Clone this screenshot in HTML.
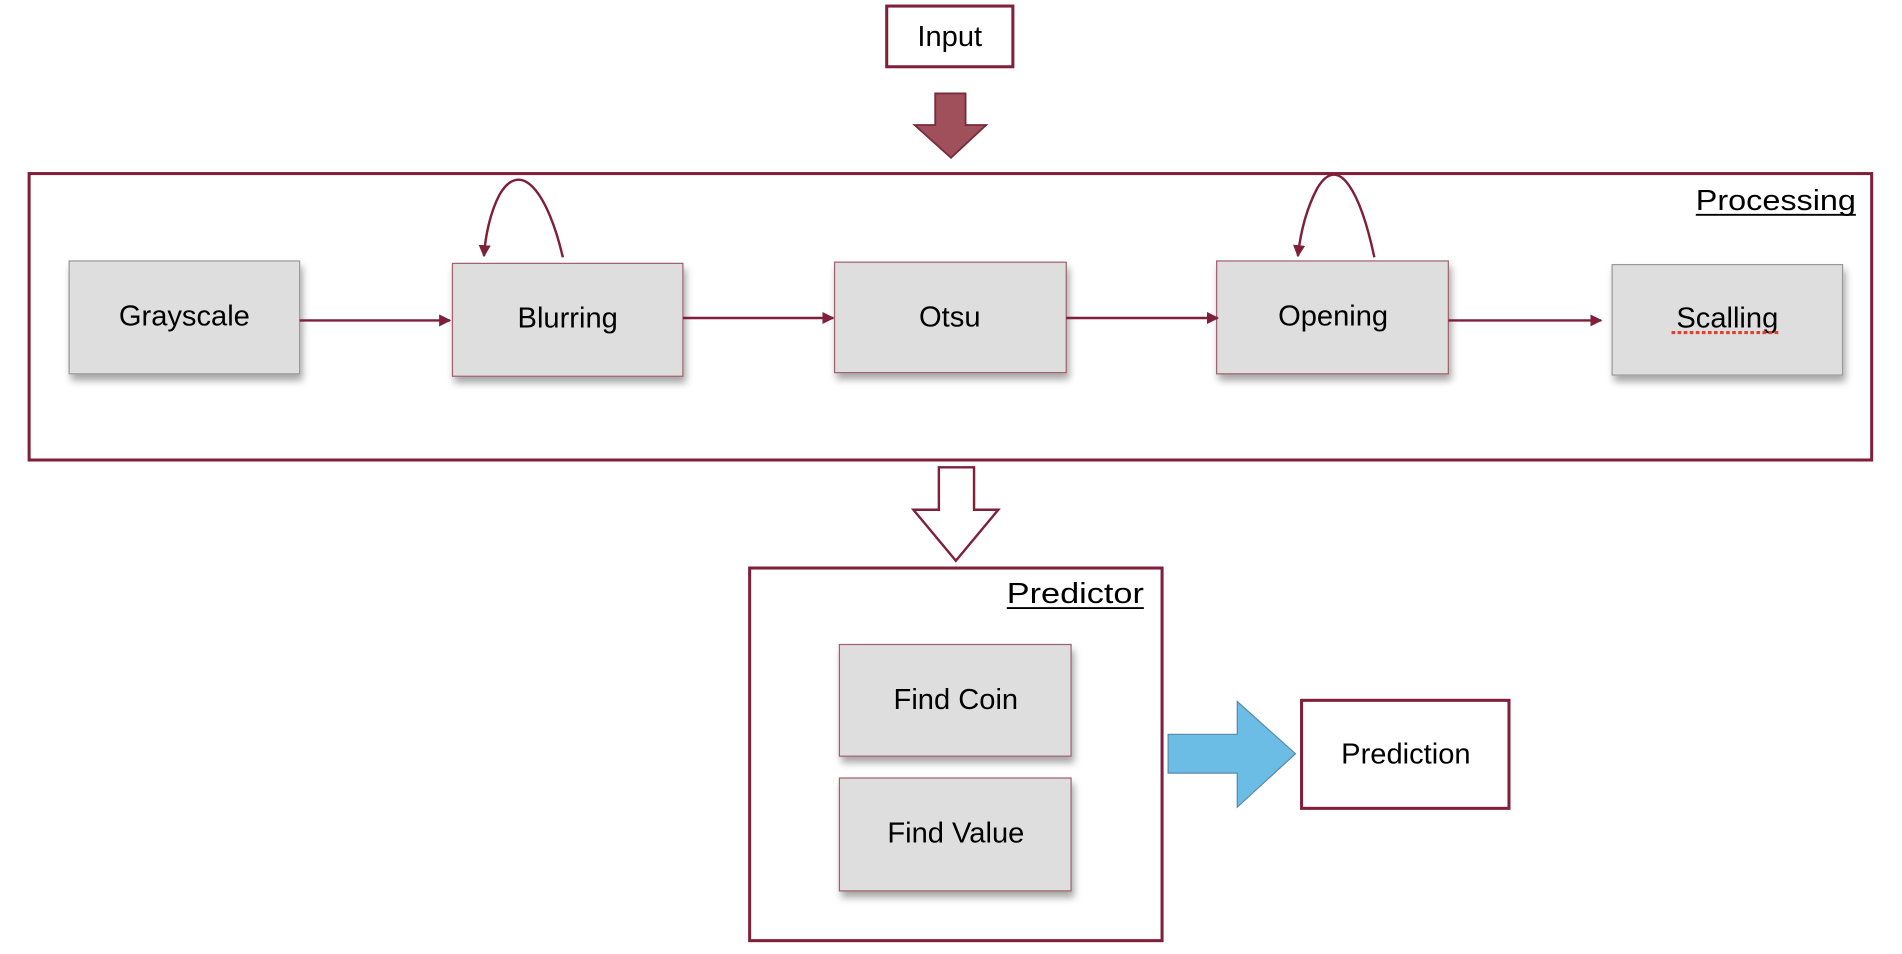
<!DOCTYPE html>
<html><head><meta charset="utf-8"><style>
html,body{margin:0;padding:0;background:#fff;}
svg{display:block;}
text{font-family:"Liberation Sans",sans-serif;fill:#000;}
</style></head><body>
<svg width="1902" height="954" viewBox="0 0 1568 786" preserveAspectRatio="none" xmlns="http://www.w3.org/2000/svg">
<defs>
<marker id="ah" markerWidth="10" markerHeight="10" refX="9" refY="5" orient="auto" markerUnits="userSpaceOnUse">
<path d="M0,0 L10,5 L0,10 z" fill="#7f1f3a"/>
</marker>
<filter id="sh" x="-10%" y="-10%" width="130%" height="140%">
<feDropShadow dx="2" dy="5" stdDeviation="3" flood-color="#000" flood-opacity="0.35"/>
</filter>
</defs>
<rect x="731" y="5" width="104" height="50" fill="#fff" stroke="#7f1f3a" stroke-width="2.5"/>
<text x="783" y="38" font-size="24" text-anchor="middle">Input</text>
<path d="M771,77 L796,77 L796,103 L813,103 L784,130 L754,103 L771,103 Z" fill="#a0505a" stroke="#7a2a3a" stroke-width="1.5"/>
<rect x="24" y="143" width="1519" height="236" fill="none" stroke="#7f1f3a" stroke-width="2.5"/>
<text x="1398" y="173" font-size="24" textLength="132" lengthAdjust="spacingAndGlyphs">Processing</text>
<line x1="1398" y1="177" x2="1530" y2="177" stroke="#000" stroke-width="1.5"/>
<g filter="url(#sh)">
<rect x="57" y="215" width="190" height="93" fill="#dedede" stroke="#999" stroke-width="1"/>
<rect x="373" y="217" width="190" height="93" fill="#dedede" stroke="#a06070" stroke-width="1"/>
<rect x="688" y="216" width="191" height="91" fill="#dedede" stroke="#a06070" stroke-width="1"/>
<rect x="1003" y="215" width="191" height="93" fill="#dedede" stroke="#a06070" stroke-width="1"/>
<rect x="1329" y="218" width="190" height="91" fill="#dedede" stroke="#999" stroke-width="1"/>
</g>
<text x="152" y="268" font-size="24" text-anchor="middle">Grayscale</text>
<text x="468" y="270" font-size="24" text-anchor="middle">Blurring</text>
<text x="783" y="269" font-size="24" text-anchor="middle">Otsu</text>
<text x="1099" y="268" font-size="24" text-anchor="middle">Opening</text>
<text x="1424" y="270" font-size="24" text-anchor="middle">Scalling</text>
<line x1="1378" y1="274" x2="1466" y2="274" stroke="#e04030" stroke-width="2.5" stroke-dasharray="3,2"/>
<g stroke="#7f1f3a" stroke-width="2" fill="none">
<line x1="247" y1="264" x2="371" y2="264" marker-end="url(#ah)"/>
<line x1="563" y1="262" x2="687" y2="262" marker-end="url(#ah)"/>
<line x1="879" y1="262" x2="1004" y2="262" marker-end="url(#ah)"/>
<line x1="1194" y1="264" x2="1320" y2="264" marker-end="url(#ah)"/>
<path d="M464,212 C452,160 430,130 412,160 C404,175 400,195 399,211" marker-end="url(#ah)"/>
<path d="M1133,212 C1122,160 1104,125 1086,155 C1077,172 1072,192 1070,211" marker-end="url(#ah)"/>
</g>
<path d="M774,385 L803,385 L803,420 L823,420 L788,462 L753,420 L774,420 Z" fill="#fff" stroke="#7f1f3a" stroke-width="2"/>
<rect x="618" y="468" width="340" height="307" fill="none" stroke="#7f1f3a" stroke-width="2.5"/>
<text x="830" y="497" font-size="24" textLength="113" lengthAdjust="spacingAndGlyphs">Predictor</text>
<line x1="830" y1="501" x2="943" y2="501" stroke="#000" stroke-width="1.5"/>
<g filter="url(#sh)">
<rect x="692" y="531" width="191" height="92" fill="#dedede" stroke="#a06070" stroke-width="1"/>
<rect x="692" y="641" width="191" height="93" fill="#dedede" stroke="#a06070" stroke-width="1"/>
</g>
<text x="788" y="584" font-size="24" text-anchor="middle">Find Coin</text>
<text x="788" y="694" font-size="24" text-anchor="middle">Find Value</text>
<path d="M963,605 L1020,605 L1020,578 L1068,621 L1020,665 L1020,637 L963,637 Z" fill="#6bbde6" stroke="#5a8aaa" stroke-width="1"/>
<rect x="1073" y="577" width="171" height="89" fill="#fff" stroke="#7f1f3a" stroke-width="2.5"/>
<text x="1159" y="629" font-size="24" text-anchor="middle">Prediction</text>
</svg>
</body></html>
